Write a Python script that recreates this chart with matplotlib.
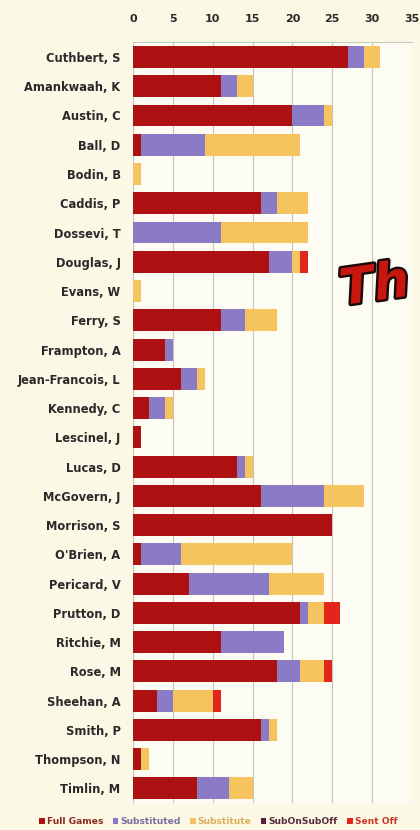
import matplotlib
matplotlib.use("Agg")
import matplotlib.pyplot as plt
import matplotlib.patheffects as pe
import numpy as np

jogadores = [
    "Cuthbert, S", "Amankwaah, K", "Austin, C", "Ball, D", "Bodin, B",
    "Caddis, P", "Dossevi, T", "Douglas, J", "Evans, W", "Ferry, S",
    "Frampton, A", "Jean-Francois, L", "Kennedy, C", "Lescinel, J", "Lucas, D",
    "McGovern, J", "Morrison, S", "O'Brien, A", "Pericard, V", "Prutton, D",
    "Ritchie, M", "Rose, M", "Sheehan, A", "Smith, P", "Thompson, N",
    "Timlin, M",
]
full_games = [27, 11, 20, 1, 0, 16, 0, 17, 0, 11, 4, 6, 2, 1, 13,
              16, 25, 1, 7, 21, 11, 18, 3, 16, 1, 8]
substituted = [2, 2, 4, 8, 0, 2, 11, 3, 0, 3, 1, 2, 2, 0, 1,
               8, 0, 5, 10, 1, 8, 3, 2, 1, 0, 4]
substitute = [2, 2, 1, 12, 1, 4, 11, 1, 1, 4, 0, 1, 1, 0, 1,
              5, 0, 14, 7, 2, 0, 3, 5, 1, 1, 3]
sub_on_sub_off = [0] * 26
sent_off = [0, 0, 0, 0, 0, 0, 0, 1, 0, 0, 0, 0, 0, 0, 0,
            0, 0, 0, 0, 2, 0, 1, 1, 0, 0, 0]

series = [
    ("Full Games", full_games, "#ad1111"),
    ("Substituted", substituted, "#8b7bc6"),
    ("Substitute", substitute, "#f6c45e"),
    ("SubOnSubOff", sub_on_sub_off, "#5a1f3c"),
    ("Sent Off", sent_off, "#e2261c"),
]
# cor do texto da legenda (impressao borrada, puxa para a cor da serie)
cores_legenda = ["#8a2a20", "#7a70a0", "#d8b060", "#5a2a40", "#c83a28"]

fundo = "#fbf9e6"
fig = plt.figure(figsize=(4.2, 8.3), dpi=100, facecolor=fundo)
ax = fig.add_axes([0.3167, 0.0325, 0.6643, 0.9165])
ax.set_facecolor("#fdfcf2")

y = np.arange(len(jogadores))
base = np.zeros(len(jogadores))
for nome, vals, cor in series:
    ax.barh(y, vals, left=base, height=0.75, color=cor, label=nome, zorder=3)
    base += np.array(vals)

ax.set_xlim(0, 35)
ax.set_ylim(len(jogadores) - 0.5, -0.5)
ax.set_yticks(y)
ax.set_yticklabels(jogadores, fontsize=8.3, fontweight="bold", color="#2a2a2a")
ax.set_xticks(range(0, 36, 5))
ax.xaxis.tick_top()
ax.tick_params(axis="x", labelsize=8, length=0, pad=13, colors="#2a2a2a")
for t in ax.get_xticklabels():
    t.set_fontweight("bold")
ax.tick_params(axis="y", length=0, pad=9)
ax.grid(axis="x", color="#c4c4bc", linewidth=0.8, zorder=0)
for s in ax.spines.values():
    s.set_visible(False)
ax.spines["top"].set_visible(True)
ax.spines["top"].set_color("#c8c8c0")

leg = fig.legend(loc="lower center", bbox_to_anchor=(0.52, -0.005), ncol=5,
                 frameon=False, handlelength=0.6, handleheight=0.6,
                 handletextpad=0.25, columnspacing=1.0,
                 prop={"weight": "bold", "size": 6.6})
for txt, cor in zip(leg.get_texts(), cores_legenda):
    txt.set_color(cor)

# letreiro decorativo vermelho sobreposto ao grafico
fig.text(0.802, 0.655, "Th", fontsize=36, fontstyle="italic",
         fontweight="bold", color="#c8170f", rotation=8,
         ha="left", va="center",
         path_effects=[pe.withStroke(linewidth=3.5, foreground="#1a0a08")],
         zorder=10)

fig.savefig("out.png", dpi=100, facecolor=fundo)
